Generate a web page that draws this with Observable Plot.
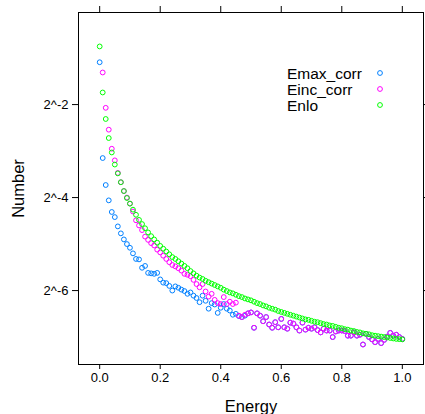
<!DOCTYPE html>
<html><head><meta charset="utf-8">
<script src="https://cdn.jsdelivr.net/npm/d3@7"></script>
<script src="https://cdn.jsdelivr.net/npm/@observablehq/plot@0.6"></script>
<style>
body{margin:0;background:#fff;font-family:"Liberation Sans",Arial,sans-serif;}
#wrap{position:relative;width:425px;height:414px;overflow:hidden;}
#legend{position:absolute;left:0;top:0;pointer-events:none;}
</style></head><body><div id="wrap"></div>
<script>
// Energy grid (x)
const energy = [0,0.01,0.02,0.03,0.04,0.05,0.06,0.07,0.08,0.09,
0.10,0.11,0.12,0.13,0.14,0.15,0.16,0.17,0.18,0.19,
0.20,0.21,0.22,0.23,0.24,0.25,0.26,0.27,0.28,0.29,
0.30,0.31,0.32,0.33,0.34,0.35,0.36,0.37,0.38,0.39,
0.40,0.41,0.42,0.43,0.44,0.45,0.46,0.47,0.48,0.49,
0.50,0.51,0.52,0.53,0.54,0.55,0.56,0.57,0.58,0.59,
0.60,0.61,0.62,0.63,0.64,0.65,0.66,0.67,0.68,0.69,
0.70,0.71,0.72,0.73,0.74,0.75,0.76,0.77,0.78,0.79,
0.80,0.81,0.82,0.83,0.84,0.85,0.86,0.87,0.88,0.89,
0.90,0.91,0.92,0.93,0.94,0.95,0.96,0.97,0.98,0.99,
1.00];

// Values given as base-2 exponents (Number = 2^value)
const emaxCorrLog2 = [-1.09,-3.15,-3.73,-4.06,-4.31,-4.42,-4.62,-4.77,-4.90,-5.00,
-5.08,-5.20,-5.32,-5.33,-5.51,-5.47,-5.62,-5.63,-5.64,-5.62,
-5.76,-5.83,-5.84,-5.90,-6.00,-5.91,-5.94,-5.98,-6.01,-6.07,
-6.04,-6.11,-6.16,-6.25,-6.11,-6.22,-6.39,-6.27,-6.30,-6.48,
-6.37,-6.29,-6.39,-6.43,-6.52,-6.50,-6.55,-6.57,-6.54,-6.49,
-6.47,-6.80,-6.49,-6.54,-6.66,-6.57,-6.73,-6.80,-6.68,-6.79,
-6.61,-6.79,-6.82,-6.69,-6.71,-6.79,-6.86,-6.69,-6.84,-6.80,
-6.82,-6.79,-6.85,-6.90,-6.82,-6.86,-6.86,-7.00,-6.88,-6.86,
-6.86,-6.87,-6.97,-6.97,-6.90,-6.97,-6.95,-7.16,-6.93,-7.00,
-7.05,-7.11,-7.04,-7.13,-7.06,-6.99,-6.91,-6.97,-6.95,-7.00,
-7.04];

const eincCorrLog2 = [null,-1.31,-2.07,-2.54,-2.95,-3.20,-3.47,-3.67,-3.86,-4.00,
-4.13,-4.30,-4.49,-4.60,-4.70,-4.84,-4.91,-4.98,-5.03,-5.12,
-5.18,-5.25,-5.32,-5.39,-5.45,-5.48,-5.52,-5.57,-5.64,-5.66,
-5.69,-5.77,-5.86,-5.93,-5.86,-6.02,-6.13,-6.07,-6.20,-6.27,
-6.29,-6.14,-6.29,-6.24,-6.29,-6.26,-6.54,-6.57,-6.52,-6.49,
-6.47,-6.80,-6.49,-6.54,-6.66,-6.57,-6.73,-6.80,-6.68,-6.79,
-6.61,-6.79,-6.82,-6.69,-6.71,-6.79,-6.86,-6.69,-6.84,-6.80,
-6.82,-6.79,-6.85,-6.90,-6.82,-6.86,-6.86,-7.00,-6.88,-6.86,
-6.86,-6.87,-6.97,-6.97,-6.90,-6.97,-6.95,-7.16,-6.93,-7.00,
-7.05,-7.11,-7.04,-7.13,-7.06,-6.99,-6.91,-6.97,-6.95,-7.00,
-7.04];

const enloLog2 = [-0.75,-1.74,-2.31,-2.72,-3.03,-3.29,-3.48,-3.67,-3.86,-4.01,
-4.13,-4.26,-4.37,-4.48,-4.57,-4.66,-4.75,-4.83,-4.90,-4.97,
-5.04,-5.10,-5.16,-5.22,-5.28,-5.32,-5.37,-5.42,-5.47,-5.52,
-5.58,-5.63,-5.68,-5.72,-5.75,-5.79,-5.82,-5.85,-5.88,-5.91,
-5.94,-5.98,-6.01,-6.04,-6.06,-6.09,-6.12,-6.14,-6.17,-6.19,
-6.21,-6.24,-6.27,-6.29,-6.32,-6.34,-6.37,-6.39,-6.41,-6.44,
-6.46,-6.48,-6.50,-6.52,-6.54,-6.56,-6.58,-6.60,-6.62,-6.63,
-6.65,-6.67,-6.68,-6.70,-6.72,-6.73,-6.75,-6.76,-6.78,-6.80,
-6.81,-6.83,-6.84,-6.86,-6.87,-6.89,-6.90,-6.92,-6.93,-6.94,
-6.96,-6.97,-6.98,-6.99,-7.00,-7.01,-7.02,-7.03,-7.04,-7.045,
-7.05];

const seriesNames = ["Emax_corr","Einc_corr","Enlo"];
const seriesColors = ["#0080ff","#ff00ff","#00ff00"];
const xTicks = [0,0.2,0.4,0.6,0.8,1.0];
const xTickLabels = ["0.0","0.2","0.4","0.6","0.8","1.0"];
const yTicks = [0.25,0.0625,0.015625];
const yTickLabels = ["2^-2","2^-4","2^-6"];
const xTitle = "Energy";
const yTitle = "Number";

function labelFor(ticks, labels){
  return d => {
    let best = 0;
    ticks.forEach((t,i)=>{ if (Math.abs(t-d) < Math.abs(ticks[best]-d)) best = i; });
    return labels[best];
  };
}

function rowsFor(arr){
  return energy.map((e,i)=>({energy:e, number: arr[i]==null ? null : Math.pow(2, arr[i])}))
               .filter(d=>d.number!=null);
}
const sets = [rowsFor(emaxCorrLog2), rowsFor(eincCorrLog2), rowsFor(enloLog2)];

const font = '"Liberation Sans", Arial, sans-serif';
const chart = Plot.plot({
  width: 425, height: 414,
  marginLeft: 78, marginRight: 2, marginTop: 12, marginBottom: 50,
  style: {fontFamily: font, fontSize: "13px", color: "#000", background: "#fff", overflow: "visible"},
  x: {domain: [-0.07, 1.07]},
  y: {type: "log", base: 2, domain: [Math.pow(2,-7.59), Math.pow(2,-0.02)]},
  marks: [
    ...sets.map((s,k)=>Plot.dot(s, {x:"energy", y:"number", r:2.4, stroke: seriesColors[k], strokeWidth:1, fill:"none"})),
    Plot.frame({stroke:"#000", strokeWidth:1}),
    Plot.axisX({anchor:"bottom", ticks: xTicks, tickSize:5, tickPadding:3, tickFormat: labelFor(xTicks, xTickLabels), label:null, fontSize:13}),
    Plot.axisX({anchor:"top", ticks: xTicks, tickSize:7, tickFormat:()=>"", label:null}),
    Plot.axisY({anchor:"left", ticks: yTicks, tickSize:6, tickPadding:4, tickFormat: labelFor(yTicks, yTickLabels), label:null, fontSize:13}),
    Plot.axisY({anchor:"right", ticks: yTicks, tickSize:6, tickFormat:()=>"", label:null}),
    Plot.text([xTitle], {frameAnchor:"bottom", dy:47, text:d=>d, fontSize:16.5, textAnchor:"middle", lineAnchor:"bottom"}),
    Plot.text([yTitle], {frameAnchor:"left", dx:-60, text:d=>d, fontSize:16.5, rotate:-90, textAnchor:"middle", lineAnchor:"middle"})
  ]
});
const wrap = document.getElementById("wrap");
wrap.appendChild(chart);

// Legend (key) inside the panel, top right
const leg = d3.select(wrap).append("svg").attr("id","legend").attr("width",425).attr("height",414);
seriesNames.forEach((name,k)=>{
  const cy = 73 + k*16;
  leg.append("text").attr("x",287).attr("y",cy+5.5).attr("font-family",font).attr("font-size","15.5px").attr("fill","#000").text(name);
  leg.append("circle").attr("cx",380).attr("cy",cy).attr("r",2.4).attr("fill","none").attr("stroke",seriesColors[k]).attr("stroke-width",1);
});
</script>
</body></html>
